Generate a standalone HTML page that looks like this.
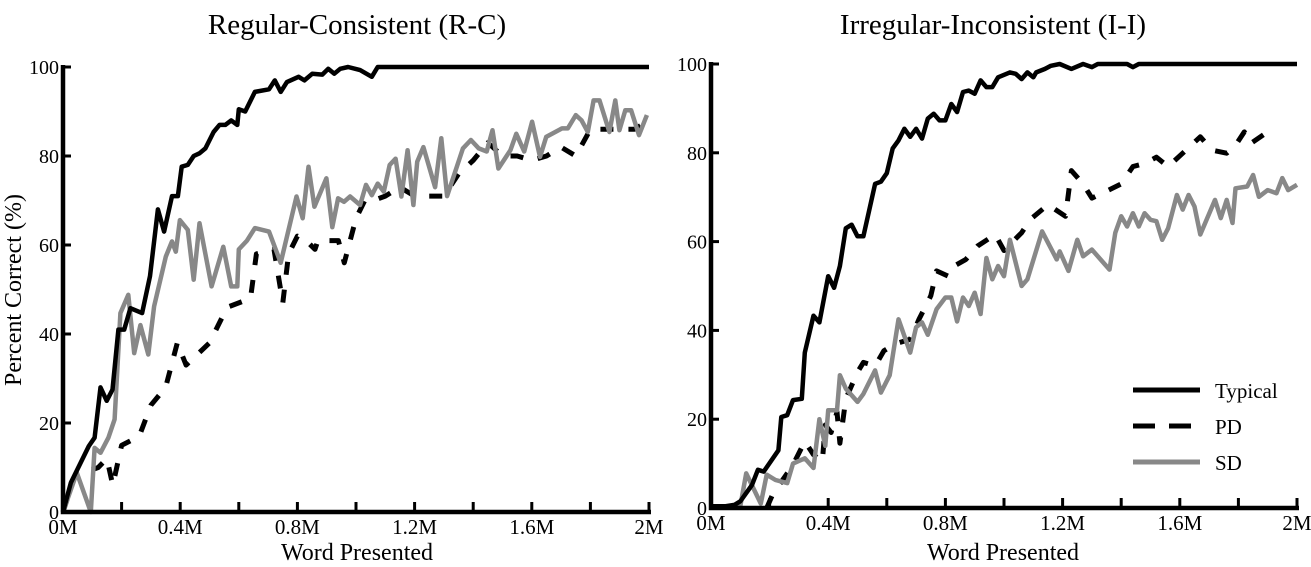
<!DOCTYPE html>
<html><head><meta charset="utf-8"><style>
body{margin:0;background:#fff;}
svg{display:block;font-family:"Liberation Serif",serif;}
</style></head><body>
<svg id="chart" width="1311" height="567" viewBox="0 0 1311 567" xmlns="http://www.w3.org/2000/svg">
<text x="357" y="34" font-size="29" text-anchor="middle">Regular-Consistent (R-C)</text>
<text x="993" y="34" font-size="29" text-anchor="middle">Irregular-Inconsistent (I-I)</text>
<text transform="translate(21,290) rotate(-90)" font-size="24" text-anchor="middle">Percent Correct (%)</text>
<text x="357" y="560" font-size="24" text-anchor="middle">Word Presented</text>
<text x="1003" y="560" font-size="24" text-anchor="middle">Word Presented</text>
<g id="left"></g>
<g id="right"></g>
<g>
<line x1="1133" y1="390" x2="1200" y2="390" stroke="#000" stroke-width="5"/>
<text x="1215" y="398" font-size="21">Typical</text>
<line x1="1133" y1="426" x2="1200" y2="426" stroke="#000" stroke-width="5" stroke-dasharray="22 14"/>
<text x="1215" y="434" font-size="21">PD</text>
<line x1="1133" y1="462" x2="1200" y2="462" stroke="#888" stroke-width="5"/>
<text x="1215" y="470" font-size="21">SD</text>
</g>
</svg>
<script>
const yTicks=[0,20,40,60,80,100];
const xTickLabels=["0M","0.4M","0.8M","1.2M","1.6M","2M"];
const xTickVals=[0,0.4,0.8,1.2,1.6,2];
const xMinorVals=[0,0.2,0.4,0.6,0.8,1.0,1.2,1.4,1.6,1.8,2.0];

const lTypX=[0,0.027,0.088,0.108,0.128,0.149,0.169,0.189,0.209,0.23,0.27,0.297,0.324,0.345,0.372,0.392,0.405,0.426,0.446,0.466,0.486,0.514,0.534,0.554,0.574,0.595,0.6,0.622,0.655,0.703,0.723,0.743,0.764,0.804,0.824,0.851,0.885,0.905,0.926,0.946,0.973,1.014,1.054,1.074,1.2,2.0];
const lTypY=[0,6.6,14.8,16.7,28,25,27.5,41,41,45.8,44.7,53,68,63,71,71,77.6,78,80,80.6,81.7,85.4,87,87,88,87,90.5,90,94.4,95,97,94.4,96.6,97.8,97,98.5,98.3,99.6,98.5,99.6,100,99.3,97.8,100,100,100];
const lSdX=[0,0.047,0.095,0.108,0.128,0.155,0.176,0.196,0.223,0.243,0.264,0.291,0.311,0.351,0.372,0.385,0.399,0.426,0.446,0.466,0.507,0.547,0.574,0.595,0.6,0.628,0.655,0.703,0.743,0.797,0.818,0.838,0.858,0.899,0.919,0.939,0.959,0.98,1.014,1.034,1.054,1.074,1.095,1.115,1.135,1.155,1.176,1.196,1.209,1.23,1.27,1.291,1.311,1.365,1.392,1.419,1.446,1.466,1.486,1.527,1.547,1.574,1.601,1.628,1.649,1.703,1.723,1.75,1.77,1.791,1.811,1.831,1.865,1.885,1.899,1.919,1.939,1.966,1.993];
const lSdY=[0,8.8,0,14.4,13.3,16.7,20.8,44.7,48.8,35.7,42,35.4,46.2,57.4,60.8,58.5,65.6,63.4,52.2,64.9,50.7,59.6,50.7,50.7,59,61,63.8,63,56,70.9,66,77.6,68.6,75,64,70.5,69.7,70.9,69,73.5,71.2,73.8,72,78,79.4,70.9,81.3,69,78.7,82,73,84,71,81.7,83.6,81.7,81,85.8,77.2,81.3,85,81,87.7,79.8,84.3,86.2,86.2,89.2,88,85.4,92.5,92.5,85.4,92.5,85.8,90.3,90.3,84.7,89.2];
const lPdX=[0,0.04,0.12,0.15,0.17,0.2,0.26,0.3,0.35,0.39,0.42,0.5,0.56,0.6,0.64,0.66,0.72,0.75,0.77,0.8,0.83,0.86,0.87,0.94,0.96,1.0,1.03,1.06,1.1,1.15,1.2,1.25,1.3,1.35,1.4,1.45,1.5,1.55,1.6,1.65,1.7,1.75,1.8,1.85,1.9,1.95,2.0];
const lPdY=[0,8,10,12,6,15,17,24,28,38,33,38,46,47,48,58,59,47,58,62,61,59,61,61,56,66,70,70,71,73,71,71,71,76,79,83,80,80,79,80,82,80,86,86,86,86,88];

const rTypX=[0,0.05,0.08,0.1,0.14,0.16,0.18,0.23,0.24,0.26,0.28,0.31,0.32,0.35,0.37,0.40,0.42,0.44,0.46,0.48,0.50,0.52,0.56,0.58,0.60,0.62,0.64,0.66,0.68,0.70,0.72,0.74,0.76,0.78,0.80,0.82,0.84,0.86,0.88,0.90,0.92,0.94,0.96,0.98,1.02,1.04,1.06,1.08,1.10,1.11,1.14,1.16,1.19,1.23,1.27,1.30,1.32,1.42,1.44,1.46,2.0];
const rTypY=[0.4,0.4,0.7,1.5,5.2,8.6,8.2,13,20.5,20.9,24.3,24.6,35,43.3,41.8,52.2,49.6,54.5,63,63.8,61.2,61.2,73,73.5,75.4,81,82.8,85.4,83.6,85.4,83.2,87.7,88.8,87.3,87.3,91,89.2,93.7,94,93.3,96.3,94.8,94.8,97,98.1,97.8,96.6,98.1,97,98.1,98.9,99.6,100,98.9,100,99.3,100,100,99.3,100,100];
const rSdX=[0,0.1,0.12,0.17,0.19,0.22,0.26,0.28,0.32,0.35,0.37,0.39,0.40,0.43,0.44,0.46,0.50,0.52,0.56,0.58,0.61,0.64,0.68,0.70,0.72,0.74,0.77,0.80,0.82,0.84,0.86,0.88,0.90,0.92,0.94,0.96,0.98,1.0,1.02,1.06,1.08,1.13,1.18,1.19,1.22,1.25,1.27,1.30,1.36,1.38,1.40,1.42,1.44,1.46,1.48,1.50,1.52,1.54,1.56,1.59,1.61,1.63,1.65,1.67,1.72,1.74,1.76,1.78,1.79,1.83,1.85,1.87,1.90,1.93,1.95,1.97,2.0];
const rSdY=[0.4,0.4,7.8,1,7.5,6.3,5.6,10,11.2,9,20,14,22,22,29.9,26.9,23.9,25.7,31,26,29.9,42.5,35,40.7,41.8,39,44.8,47.4,47.4,42,47.4,45.5,48.5,43.7,56.3,51.5,54.5,52.2,60.4,50,51.5,62.3,56,57.8,53.4,60.4,56.7,58.2,53.7,62,65.7,63.4,66.4,63.4,66.4,64.9,64.6,60.4,63,70.5,67.2,70.5,67.9,61.6,69.4,65.3,69.4,64.2,72,72.4,75,70.1,71.6,70.9,74.3,71.6,72.8];
const rPdX=[0.19,0.21,0.28,0.32,0.35,0.38,0.39,0.41,0.43,0.44,0.46,0.50,0.52,0.56,0.59,0.63,0.68,0.71,0.75,0.77,0.81,0.83,0.87,0.91,0.97,1.0,1.06,1.09,1.15,1.21,1.23,1.27,1.30,1.37,1.40,1.44,1.48,1.52,1.56,1.61,1.67,1.71,1.76,1.79,1.82,1.84,1.90,1.91];
const rPdY=[0,3,9.7,15,12,10.4,18.7,17,21.6,14.6,24.6,30.6,32.8,32,35.4,37,38,42.5,47.8,53.4,52.2,54.5,56,59,61.6,58,62,65,68.3,65.7,76,73,69.8,72,73,76.9,77.6,79,76.9,79.9,83.6,80.6,79.9,81.7,84.7,82,84.7,82.8];

const NS="http://www.w3.org/2000/svg";
function mk(parent,tag,attrs){const e=document.createElementNS(NS,tag);for(const k in attrs)e.setAttribute(k,attrs[k]);parent.appendChild(e);return e;}

function panel(g,x0,x1,y0,y1,series,side){
  const sx=v=>x0+(v/2)*(x1-x0);
  const sy=v=>y0-(v/100)*(y0-y1);
  series.forEach(s=>{
    let d="";
    s.x.forEach((v,i)=>{d+=(i?"L":"M")+sx(v).toFixed(1)+","+sy(s.y[i]).toFixed(1);});
    const p=mk(g,"path",{d:d,fill:"none",stroke:s.color,"stroke-width":s.w||4.5,"stroke-linejoin":"round"});
    if(s.dash)p.setAttribute("stroke-dasharray",s.dash);
    
    
  });
  const ax=mk(g,"path",{d:`M${x0},${y1-2}L${x0},${y0}L${x1+2},${y0}`,fill:"none",stroke:"#000","stroke-width":4.5});
  
  
  xMinorVals.forEach(v=>{
    const t=mk(g,"line",{x1:sx(v),x2:sx(v),y1:y0,y2:y0-10,stroke:"#000","stroke-width":3});
    
    
  });
  xTickVals.forEach((v,i)=>{
    const t=mk(g,"text",{x:sx(v),y:y0+22,"font-size":21,"text-anchor":"middle"});
    t.textContent=xTickLabels[i];
    
    
  });
  yTicks.forEach(v=>{
    const l=mk(g,"line",{x1:x0,x2:x0+8,y1:sy(v),y2:sy(v),stroke:"#000","stroke-width":3});
    
    
    const t=mk(g,"text",{x:x0-4,y:sy(v)+7,"font-size":20,"text-anchor":"end"});
    t.textContent=v;
    
    
  });
}
panel(document.getElementById("left"),63,649,512,67,[
  {name:"pd",x:lPdX,y:lPdY,color:"#000",dash:"13 15",w:5},
  {name:"sd",x:lSdX,y:lSdY,color:"#888"},
  {name:"typical",x:lTypX,y:lTypY,color:"#000"}],"left");
panel(document.getElementById("right"),711,1297,508,64,[
  {name:"pd",x:rPdX,y:rPdY,color:"#000",dash:"13 15",w:5},
  {name:"sd",x:rSdX,y:rSdY,color:"#888"},
  {name:"typical",x:rTypX,y:rTypY,color:"#000"}],"right");
</script>
</body></html>
